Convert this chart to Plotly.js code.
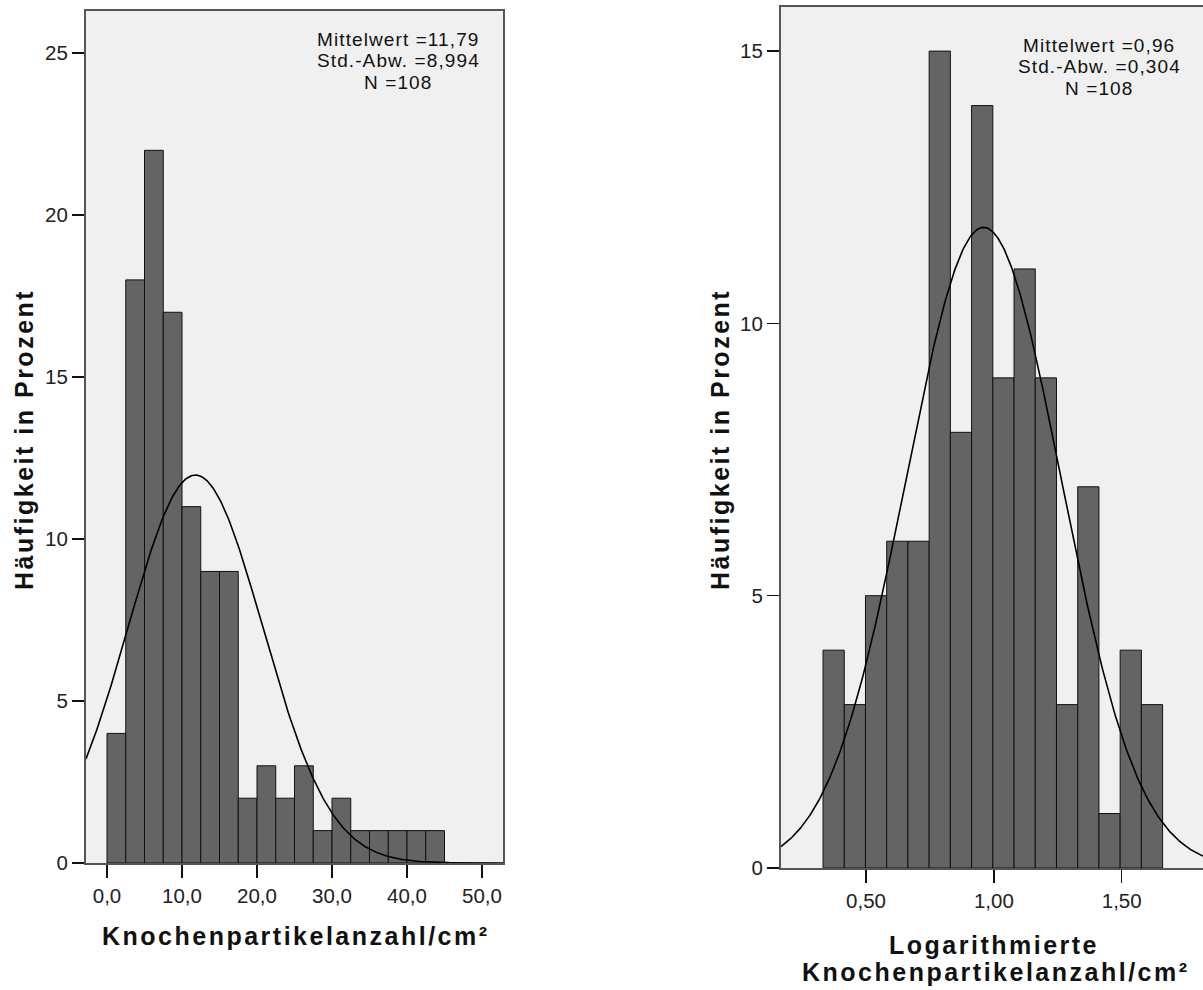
<!DOCTYPE html>
<html>
<head>
<meta charset="utf-8">
<script src="https://cdn.plot.ly/plotly-3.0.1.min.js"></script>
<style>
html,body{margin:0;padding:0;background:#fff;}
#chart{width:1203px;height:990px;}
</style>
</head>
<body>
<div id="chart"></div>
<script>
// ---- data ----
const leftCounts = [4, 18, 22, 17, 11, 9, 9, 2, 3, 2, 3, 1, 2, 1, 1, 1, 1, 1];
const leftBinStart = 0;
const leftBinWidth = 2.5;
const leftStats = {mean: 11.79, sd: 8.994, n: 108};
const leftStatLabels = ["Mittelwert =11,79", "Std.-Abw. =8,994", "N =108"];

const rightCounts = [4, 3, 5, 6, 6, 15, 8, 14, 9, 11, 9, 3, 7, 1, 4, 3];
const rightBinStart = 0.332;
const rightBinWidth = 0.083;
const rightStats = {mean: 0.96, sd: 0.304, n: 108};
const rightStatLabels = ["Mittelwert =0,96", "Std.-Abw. =0,304", "N =108"];

const yTitle = "Häufigkeit in Prozent";
const leftXTitle = "Knochenpartikelanzahl/cm²";
const rightXTitle = ["Logarithmierte", "Knochenpartikelanzahl/cm²"];

const leftXRange = [-2.8, 52.8];
const leftYRange = [0, 26.3];
const rightXRange = [0.1676, 1.818];
const rightYRange = [0, 15.81];

// ---- helpers ----
function centers(start, w, n) { const a = []; for (let i = 0; i < n; i++) a.push(start + w * (i + 0.5)); return a; }
function normalCurve(st, w, range, steps) {
  const xs = [], ys = [];
  const k = st.n * w / (st.sd * Math.sqrt(2 * Math.PI));
  for (let i = 0; i <= steps; i++) {
    const x = range[0] + (range[1] - range[0]) * i / steps;
    const z = (x - st.mean) / st.sd;
    xs.push(x); ys.push(k * Math.exp(-0.5 * z * z));
  }
  return {x: xs, y: ys};
}

const W = 1203, H = 990;
const px = v => v / W;
const py = v => 1 - v / H;

const barStyle = {color: '#646464', line: {color: '#111', width: 1}};
const lc = normalCurve(leftStats, leftBinWidth, leftXRange, 400);
const rc = normalCurve(rightStats, rightBinWidth, rightXRange, 400);

const traces = [
  {type: 'bar', x: centers(leftBinStart, leftBinWidth, leftCounts.length), y: leftCounts,
   width: leftBinWidth, marker: barStyle, xaxis: 'x', yaxis: 'y', hoverinfo: 'x+y'},
  {type: 'scatter', mode: 'lines', x: lc.x, y: lc.y, line: {color: '#000', width: 1.6},
   xaxis: 'x', yaxis: 'y', hoverinfo: 'skip'},
  {type: 'bar', x: centers(rightBinStart, rightBinWidth, rightCounts.length), y: rightCounts,
   width: rightBinWidth, marker: barStyle, xaxis: 'x2', yaxis: 'y2', hoverinfo: 'x+y'},
  {type: 'scatter', mode: 'lines', x: rc.x, y: rc.y, line: {color: '#000', width: 1.6},
   xaxis: 'x2', yaxis: 'y2', hoverinfo: 'skip'}
];

const tickFont = {family: 'Liberation Sans, Arial, sans-serif', size: 20.5, color: '#222'};
const frame = '#555';

const axisBase = {
  showgrid: false, zeroline: false, showline: true, linecolor: frame, linewidth: 2,
  ticks: 'outside', tickcolor: '#111', tickwidth: 1.5, tickfont: tickFont, fixedrange: true
};

const layout = {
  width: W, height: H,
  margin: {l: 0, r: 0, t: 0, b: 0},
  paper_bgcolor: '#fff', plot_bgcolor: '#f0f0f0',
  showlegend: false, separators: ',.', bargap: 0,
  xaxis: Object.assign({}, axisBase, {domain: [px(86), px(503)], range: leftXRange, dtick: 10, tick0: 0,
    tickformat: '.1f', ticklen: 13, mirror: true, anchor: 'y'}),
  yaxis: Object.assign({}, axisBase, {domain: [py(863), py(11)], range: leftYRange, dtick: 5, tick0: 0,
    ticklen: 12, mirror: true, anchor: 'x'}),
  xaxis2: Object.assign({}, axisBase, {domain: [px(781), 1], range: rightXRange, dtick: 0.5, tick0: 0,
    tickformat: '.2f', ticklen: 13, mirror: true, anchor: 'y2'}),
  yaxis2: Object.assign({}, axisBase, {domain: [py(868), py(7)], range: rightYRange, dtick: 5, tick0: 0,
    ticklen: 12, mirror: false, anchor: 'x2'}),
  annotations: []
};

const statFont = {family: 'Liberation Sans, Arial, sans-serif', size: 19, color: '#111'};
const spStat = t => '<span style="letter-spacing:1.1px">' + t + '</span>';
const leftStatY = [39.5, 61, 82.5];
const rightStatY = [45.5, 67, 88.5];
leftStatLabels.forEach((t, i) => layout.annotations.push({text: spStat(t), xref: 'paper', yref: 'paper',
  x: px(398), y: py(leftStatY[i]), xanchor: 'center', yanchor: 'middle', showarrow: false,
  borderpad: 0, font: statFont}));
rightStatLabels.forEach((t, i) => layout.annotations.push({text: spStat(t), xref: 'paper', yref: 'paper',
  x: px(1099), y: py(rightStatY[i]), xanchor: 'center', yanchor: 'middle', showarrow: false,
  borderpad: 0, font: statFont}));

const titleFont = {family: 'Liberation Sans, Arial, sans-serif', size: 25, color: '#111', weight: 'bold'};
const sp = t => '<span style="letter-spacing:2.5px">' + t + '</span>';
function addTitle(text, x, y, angle) {
  layout.annotations.push({text: sp(text), xref: 'paper', yref: 'paper', x: px(x), y: py(y),
    xanchor: 'center', yanchor: 'middle', showarrow: false, textangle: angle || 0,
    borderpad: 0, font: titleFont});
}
addTitle(yTitle, 24, 440, -90);
addTitle(yTitle, 720, 440, -90);
addTitle(leftXTitle, 296, 936);
addTitle(rightXTitle[0], 994, 945);
addTitle(rightXTitle[1], 996, 972);

Plotly.newPlot('chart', traces, layout, {displayModeBar: false, staticPlot: true});
</script>
</body>
</html>
